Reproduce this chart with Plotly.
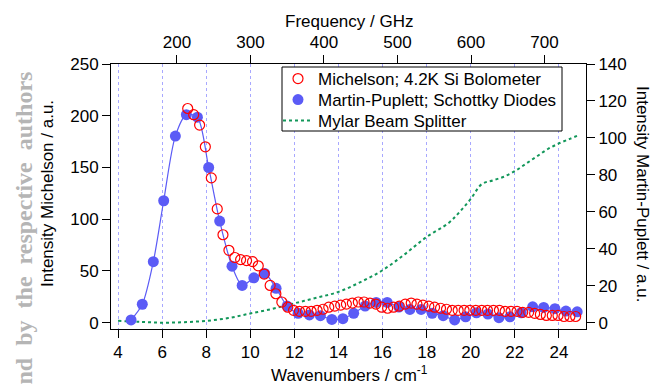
import plotly.graph_objects as go

C = 29.9792458  # GHz per cm^-1

# Michelson; 4.2K Si Bolometer (left axis)
mich_x = [7.16, 7.43, 7.70, 7.96, 8.23, 8.50, 8.76, 9.03, 9.30, 9.56, 9.83, 10.10, 10.36, 10.63,
          10.90, 11.16, 11.43, 11.70, 11.96, 12.23, 12.50, 12.76, 13.03, 13.30, 13.56, 13.83,
          14.10, 14.36, 14.63, 14.90, 15.16, 15.43, 15.70, 15.96, 16.23, 16.50, 16.76, 17.03,
          17.30, 17.56, 17.83, 18.10, 18.36, 18.63, 18.90, 19.16, 19.43, 19.70, 19.96, 20.23,
          20.50, 20.76, 21.03, 21.30, 21.56, 21.83, 22.10, 22.36, 22.63, 22.90, 23.16, 23.43,
          23.70, 23.96, 24.23, 24.50, 24.76]
mich_y = [207, 201, 191, 170, 140, 110, 85, 70, 63, 61, 60, 59, 55, 47,
          36, 28, 20, 15, 12, 11, 11, 11, 12, 13, 15, 16,
          17, 18, 19, 20, 20, 19, 18, 15, 14, 15, 16, 18,
          19, 18, 17, 16, 15, 14, 13, 12, 12, 12, 12, 12,
          12, 12, 12, 12, 11, 11, 11, 10, 10, 9, 8, 7,
          7, 7, 6, 6, 6]

# Martin-Puplett; Schottky Diodes (right axis)
mp_x = [4.59, 5.10, 5.60, 6.07, 6.60, 7.10, 7.60, 8.11, 8.61, 9.17, 9.63, 10.16, 10.65, 11.17,
        11.67, 12.17, 12.68, 13.18, 13.70, 14.20, 14.69, 15.21, 15.71, 16.21, 16.74, 17.24,
        17.75, 18.25, 18.75, 19.27, 19.77, 20.26, 20.78, 21.28, 21.78, 22.29, 22.81, 23.31,
        23.82, 24.32, 24.83]
mp_y = [1.5, 10, 33, 66, 101, 112.6, 111.2, 84, 55, 30.6, 20.2, 24.3, 26.7, 18.6,
        9.0, 5.1, 4.2, 3.8, 1.8, 2.2, 5.1, 9.0, 11.0, 11.0, 8.5, 7.2,
        7.2, 5.1, 3.8, 1.5, 3.2, 5.4, 4.7, 2.7, 3.2, 5.4, 8.6, 8.3,
        7.6, 6.3, 5.9]

# Mylar Beam Splitter (right axis)
mylar_x = [4.0, 5.0, 6.0, 7.0, 8.0, 9.0, 10.0, 11.0, 12.0, 13.0, 14.0, 15.0, 16.0, 17.0, 18.0,
           19.0, 19.5, 20.0, 20.5, 21.0, 21.5, 22.0, 22.5, 23.0, 23.5, 24.0, 24.5, 24.9]
mylar_y = [1.0, 0.5, 0.0, 0.3, 1.0, 2.5, 5.0, 7.5, 10.5, 13.5, 16.7, 22, 28.4, 37, 46.4,
           54, 60, 67, 75, 77, 79, 82, 86, 90, 94, 97, 99.5, 101.5]

wn_ticks = [4, 6, 8, 10, 12, 14, 16, 18, 20, 22, 24]
freq_ticks = [200, 300, 400, 500, 600, 700]
left_ticks = [0, 50, 100, 150, 200, 250]
right_ticks = [0, 20, 40, 60, 80, 100, 120, 140]

RED = "#ff0000"
BLUE = "#5b5bf6"
GREEN = "#12975a"
FONT = "Liberation Sans, Arial, sans-serif"

X_RANGE = [3.68, 25.23]
L_RANGE = [-6.07, 250]
R_RANGE = [-6.07 * 140 / 250, 140]

# page is offset by the browser's 8px body margin; work in figure pixels
W, H = 650, 379
ML, MT, PW, PH = 103, 56, 475, 265


def px(page_x):
    return (page_x - 8 - ML) / PW


def py(page_y):
    return 1 - (page_y - 8 - MT) / PH


fig = go.Figure()

fig.add_trace(go.Scatter(x=mylar_x, y=mylar_y, mode="lines", name="Mylar Beam Splitter",
                         line=dict(color=GREEN, width=2, dash="dot", shape="spline"),
                         xaxis="x", yaxis="y", legend="legend3"))
fig.add_trace(go.Scatter(x=mp_x, y=mp_y, mode="lines", showlegend=False,
                         line=dict(color=BLUE, width=1.2, shape="spline", smoothing=0.8),
                         xaxis="x", yaxis="y", hoverinfo="skip"))
fig.add_trace(go.Scatter(x=mp_x, y=mp_y, mode="markers", name="Martin-Puplett; Schottky Diodes",
                         marker=dict(color=BLUE, size=11, line=dict(width=0)),
                         xaxis="x", yaxis="y", legend="legend2"))
fig.add_trace(go.Scatter(x=mich_x, y=mich_y, mode="markers", name="Michelson; 4.2K Si Bolometer",
                         marker=dict(symbol="circle-open", color=RED, size=10,
                                     line=dict(width=1.2, color=RED)),
                         xaxis="x", yaxis="y2", legend="legend"))
# carrier for the top frequency axis
fig.add_trace(go.Scatter(x=freq_ticks, y=[None] * len(freq_ticks), mode="markers",
                         showlegend=False, hoverinfo="skip", xaxis="x2", yaxis="y"))

axis_common = dict(showline=True, linecolor="black", linewidth=1, ticks="outside",
                   ticklen=8, tickcolor="black", tickwidth=1, zeroline=False,
                   tickfont=dict(family=FONT, size=17, color="black"))

leg_common = dict(xanchor="left", yanchor="middle", bgcolor="rgba(0,0,0,0)",
                  borderwidth=0, font=dict(family=FONT, size=17, color="black"),
                  itemwidth=30)

fig.update_layout(
    width=W, height=H,
    margin=dict(l=ML, r=W - ML - PW, t=MT, b=H - MT - PH),
    paper_bgcolor="white", plot_bgcolor="white",
    font=dict(family=FONT, size=17, color="black"),
    xaxis=dict(range=X_RANGE, tickmode="array", tickvals=wn_ticks, anchor="y",
               showgrid=True, gridcolor="#a8a8ff", griddash="dot", gridwidth=1, **axis_common),
    xaxis2=dict(range=[X_RANGE[0] * C, X_RANGE[1] * C], tickmode="array", tickvals=freq_ticks,
                overlaying="x", side="top", anchor="y", showgrid=False, **axis_common),
    yaxis=dict(range=R_RANGE, tickmode="array", tickvals=right_ticks, side="right",
               showgrid=False, **axis_common),
    yaxis2=dict(range=L_RANGE, tickmode="array", tickvals=left_ticks, side="left",
                overlaying="y", anchor="x", showgrid=False, **axis_common),
    legend=dict(x=px(278), y=py(79), **leg_common),
    legend2=dict(x=px(278), y=py(100), **leg_common),
    legend3=dict(x=px(278), y=py(121), **leg_common),
    showlegend=True,
)

# legend frame
fig.add_shape(type="rect", xref="paper", yref="paper", layer="above",
              x0=px(282), x1=px(562), y0=py(131), y1=py(67),
              fillcolor="white", line=dict(color="black", width=1))

annos = [
    dict(text="Intensity Michelson / a.u.", x=px(47), y=py(194), textangle=-90),
    dict(text="Intensity Martin-Puplett / a.u.", x=px(643), y=py(194), textangle=90),
    dict(text="Wavenumbers / cm<sup>-1</sup>", x=px(349), y=py(374)),
    dict(text="Frequency / GHz", x=px(349), y=py(21)),
]
for a in annos:
    fig.add_annotation(xref="paper", yref="paper", showarrow=False,
                       xanchor="center", yanchor="middle",
                       font=dict(family=FONT, size=17, color="black"), **a)

NB = "\u00a0"
fig.add_annotation(xref="paper", yref="paper", showarrow=False, x=px(23), y=py(70),
                   xanchor="center", yanchor="top", textangle=-90,
                   text="<b>nd" + NB + " by" + NB + " the" + NB + " respective" + NB + " authors</b>",
                   font=dict(family="Liberation Serif, Times New Roman, serif", size=24,
                             color="#b5b5b5"))

fig.write_html("out.html")
